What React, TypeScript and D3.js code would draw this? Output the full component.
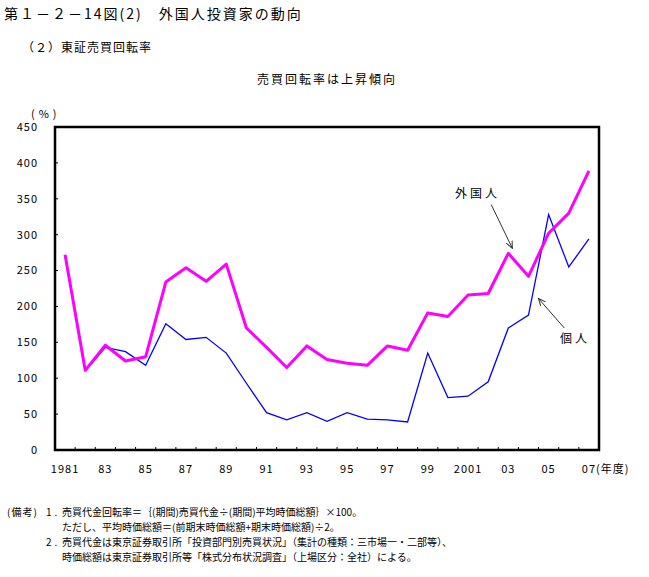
import React from "react";
import * as d3 from "d3";

const years: number[] = d3.range(1981, 2008);
const foreign: (number | null)[] = [
  272, 111, 146, 124, 130, 234, 254, 235, 259, 170,
  143, 115, 145, 126, 121, 118, 145, 139, 191, 186,
  216, 218, 274, 242, 302, 330, 389,
];
const individual: (number | null)[] = [
  null, 110, 143, 137, 118, 176, 154, 157, 135, 93,
  52, 42, 52, 40, 52, 43, 42, 39, 135, 73,
  75, 95, 170, 188, 328, 255, 294,
];
const yTicks: number[] = d3.range(0, 451, 50);
const xLabels: string[] = ["1981", "83", "85", "87", "89", "91", "93", "95", "97", "99", "2001", "03", "05", "07"];

const title = "第１－２－14図(2)　外国人投資家の動向";
const subtitle = "（２）東証売買回転率";
const headline = "売買回転率は上昇傾向";
const notes: string[] = [
  "売買代金回転率＝｛(期間)売買代金÷(期間)平均時価総額｝×100。",
  "ただし、平均時価総額＝(前期末時価総額+期末時価総額)÷2。",
  "売買代金は東京証券取引所「投資部門別売買状況」（集計の種類：三市場一・二部等）、",
  "時価総額は東京証券取引所等「株式分布状況調査」（上場区分：全社）による。",
];

const FONT = "'Noto Sans CJK JP', 'DejaVu Sans', sans-serif";

export default function App() {
  const W = 649, H = 577;
  const left = 55, right = 599, top = 127, bottom = 450;
  const x = d3.scaleBand<number>().domain(years).range([left, right]).padding(0);
  const px = (yr: number) => (x(yr) as number) + x.bandwidth() / 2;
  const y = d3.scaleLinear().domain([0, 450]).range([bottom, top]);

  const line = d3
    .line<number | null>()
    .defined((d) => d != null)
    .x((_, i) => px(years[i]))
    .y((d) => y(d as number));

  const boundaries = years.slice(1).map((yr) => x(yr) as number);

  const fArrowFrom = [px(2002) + 3, y(342)];
  const fArrowTo = [px(2003) + 4, y(281)];
  const iArrowFrom = [px(2006) - 4.5, y(170)];
  const iArrowTo = [px(2004) + 10, y(211)];

  return (
    <svg
      width={W}
      height={H}
      style={{ position: "absolute", left: 0, top: 0, background: "#fff" }}
      fontFamily={FONT}
    >
      <defs>
        <marker id="arr" viewBox="0 0 10 10" refX="9" refY="5" markerWidth="8" markerHeight="8" orient="auto">
          <path d="M0,1 L9,5 L0,9" fill="none" stroke="#333" strokeWidth="1.3" />
        </marker>
      </defs>
      <rect width={W} height={H} fill="#fff" />
      <text x={4} y={19} fontSize={14} letterSpacing={2} fill="#000">{title}</text>
      <text x={22} y={52} fontSize={12} letterSpacing={1} fill="#000">{subtitle}</text>
      <text x={257} y={84} fontSize={12} letterSpacing={2} fill="#000">{headline}</text>

      <text x={31} y={118} fontSize={11} letterSpacing={4} fill="#000">(%)</text>

      {yTicks.map((t) => (
        <g key={t}>
          <text x={38} y={y(t)} dy="0.35em" textAnchor="end" fontSize={11} letterSpacing={1} fill="#000">
            {t}
          </text>
          <line x1={left} x2={left + 3} y1={y(t)} y2={y(t)} stroke="#000" strokeWidth={1} />
        </g>
      ))}
      {boundaries.map((b, i) => (
        <line key={i} x1={b} x2={b} y1={bottom} y2={bottom - 3} stroke="#000" strokeWidth={1} />
      ))}
      {xLabels.map((lab, i) => (
        <text key={lab} x={px(years[i * 2])} y={473} textAnchor="middle" fontSize={11} letterSpacing={1} fill="#000">
          {lab}
        </text>
      ))}
      <text x={596} y={473} fontSize={11} letterSpacing={1} fill="#000">(年度)</text>

      <path d={line(individual) || ""} fill="none" stroke="#0000FF" strokeWidth={1.3} />
      <path d={line(foreign) || ""} fill="none" stroke="#FF00FF" strokeWidth={3} strokeLinejoin="round" />

      <rect x={left} y={top} width={right - left} height={bottom - top} fill="none" stroke="#000" strokeWidth={2.5} />

      <text x={455} y={198} fontSize={12} letterSpacing={3} fill="#000">外国人</text>
      <line x1={fArrowFrom[0]} y1={fArrowFrom[1]} x2={fArrowTo[0]} y2={fArrowTo[1]} stroke="#333" strokeWidth={1} markerEnd="url(#arr)" />
      <text x={560} y={343} fontSize={12} letterSpacing={3} fill="#000">個人</text>
      <line x1={iArrowFrom[0]} y1={iArrowFrom[1]} x2={iArrowTo[0]} y2={iArrowTo[1]} stroke="#333" strokeWidth={1} markerEnd="url(#arr)" />

      <g fontSize={10} fill="#000">
        <text x={7} y={516} letterSpacing={1}>(備考)</text>
        <text x={46} y={516} letterSpacing={3}>1.</text>
        <text x={62} y={516}>{notes[0]}</text>
        <text x={62} y={531}>{notes[1]}</text>
        <text x={46} y={546} letterSpacing={3}>2.</text>
        <text x={62} y={546}>{notes[2]}</text>
        <text x={62} y={561}>{notes[3]}</text>
      </g>
    </svg>
  );
}
